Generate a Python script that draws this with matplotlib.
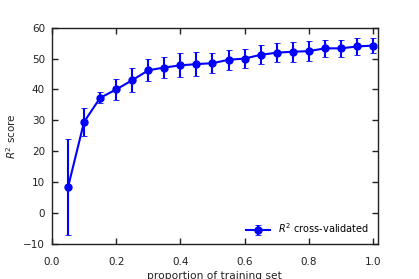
import matplotlib
matplotlib.use('Agg')
import matplotlib.pyplot as plt

# 数据：训练集比例与交叉验证 R^2 得分
proportion = [0.05, 0.10, 0.15, 0.20, 0.25, 0.30, 0.35, 0.40, 0.45, 0.50,
              0.55, 0.60, 0.65, 0.70, 0.75, 0.80, 0.85, 0.90, 0.95, 1.00]
r2_mean = [8.4, 29.5, 37.3, 40.0, 43.0, 46.2, 47.1, 47.8, 48.2, 48.5,
           49.6, 50.0, 51.2, 51.9, 52.2, 52.4, 53.3, 53.3, 53.9, 54.2]
r2_err = [15.5, 4.6, 1.8, 3.4, 3.9, 3.6, 3.3, 3.9, 3.9, 3.2,
          3.3, 3.1, 3.1, 3.1, 3.2, 3.3, 2.7, 2.7, 2.7, 2.4]

fig = plt.figure(figsize=(4.19, 2.79), dpi=100)
ax = fig.add_axes([0.124, 0.125, 0.777, 0.776])

line, caps, bars = ax.errorbar(proportion, r2_mean, yerr=r2_err, color='blue',
                               marker='o', markersize=5, lw=1.5, elinewidth=1.5,
                               capsize=2.5, capthick=0.6, ecolor='blue',
                               label=r'$R^2$ cross-validated')
for c in caps:
    c.set_color('#9999ff')

ax.set_xlim(0, 1.014)
ax.set_ylim(-10, 60)
ax.set_xticks([0.0, 0.2, 0.4, 0.6, 0.8, 1.0])
ax.set_yticks(range(-10, 61, 10))
ax.tick_params(direction='in', top=True, right=True, length=4, width=1,
               labelsize=7.5, colors='#222222')
ax.tick_params(axis='x', pad=9)
ax.tick_params(axis='y', pad=5)
for s in ax.spines.values():
    s.set_linewidth(1)
    s.set_color('#222222')

ax.set_xlabel('proportion of training set', fontsize=7.7, labelpad=3, color='#222222')
ax.set_ylabel(r'$R^2$ score', fontsize=7.5, labelpad=4, color='#222222')
ax.legend(loc='lower right', frameon=False, numpoints=1, fontsize=7,
          handlelength=2.5)

plt.savefig('out.png', dpi=100)
